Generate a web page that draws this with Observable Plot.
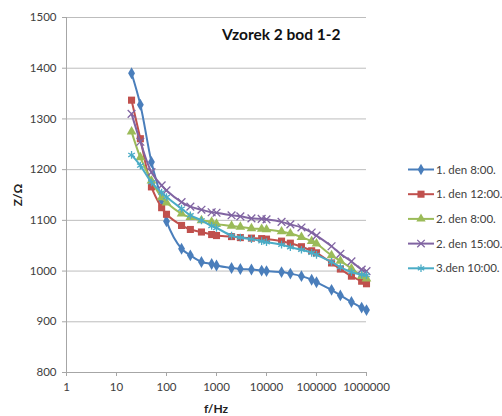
<!DOCTYPE html>
<html>
<head>
<meta charset="utf-8">
<script src="https://cdn.jsdelivr.net/npm/d3@7"></script>
<script src="https://cdn.jsdelivr.net/npm/@observablehq/plot@0.6"></script>
<style>
  html, body { margin: 0; padding: 0; background: #fff; }
  #wrap { position: relative; width: 502px; height: 416px; overflow: hidden; font-family: Lato, "Open Sans", sans-serif; }
  #title { position: absolute; left: 222px; top: 25px; font-size: 15.5px; font-weight: bold; color: #111; white-space: nowrap; }
  #ylab { position: absolute; left: 18px; top: 195px; transform: translate(-50%, -50%) rotate(-90deg); font-size: 12px; font-weight: bold; color: #222; white-space: nowrap; line-height: 12px; }
  #xlab { position: absolute; left: 216px; top: 403px; transform: translateX(-50%); font-size: 12px; line-height: 12px; font-weight: bold; color: #222; white-space: nowrap; }
  #legend { position: absolute; left: 0; top: 0; }
</style>
</head>
<body>
<div id="wrap">
  <div id="chart"></div>
  <div id="title">Vzorek 2 bod 1-2</div>
  <div id="ylab">Z/Ω</div>
  <div id="xlab">f/Hz</div>
  <svg id="legend" width="502" height="416"></svg>
</div>
<script>
const freqs = [20, 30, 50, 80, 100, 200, 300, 500, 800, 1000, 2000, 3000, 5000, 8000, 10000, 20000, 30000, 50000, 80000, 100000, 200000, 300000, 500000, 800000, 1000000];

const seriesNames = ["1. den 8:00.", "1. den 12:00.", "2. den 8:00.", "2. den 15:00.", "3.den 10:00."];
const seriesColors = ["#4a7ebb", "#c0504d", "#9bbb59", "#8064a2", "#4bacc6"];
const seriesSymbols = ["diamond", "square", "triangle", "times", "asterisk"];

const den1_800 = [1390, 1328, 1215, 1140, 1098, 1044, 1031, 1018, 1014, 1011, 1006, 1004, 1003, 1001, 1000, 998, 995, 990, 983, 978, 963, 952, 939, 928, 923];
const den1_1200 = [1337, 1261, 1166, 1125, 1112, 1090, 1082, 1077, 1072, 1070, 1068, 1066, 1065, 1064, 1063, 1059, 1055, 1048, 1040, 1036, 1016, 1004, 990, 980, 975];
const den2_800 = [1275, 1224, 1178, 1145, 1135, 1113, 1106, 1100, 1097, 1093, 1089, 1087, 1084, 1083, 1082, 1078, 1074, 1067, 1059, 1054, 1031, 1020, 1005, 990, 985];
const den2_1500 = [1310, 1255, 1195, 1169, 1159, 1136, 1127, 1121, 1116, 1115, 1110, 1108, 1104, 1103, 1102, 1097, 1092, 1086, 1076, 1070, 1049, 1034, 1019, 1003, 1000];
const den3_1000 = [1229, 1208, 1175, 1155, 1146, 1123, 1110, 1100, 1089, 1085, 1070, 1066, 1063, 1059, 1057, 1052, 1047, 1042, 1036, 1032, 1018, 1008, 998, 993, 992];

const xTicks = [1, 10, 100, 1000, 10000, 100000, 1000000];
const yTicks = [800, 900, 1000, 1100, 1200, 1300, 1400, 1500];

const allSeries = [den1_800, den1_1200, den2_800, den2_1500, den3_1000];
const rows = [];
allSeries.forEach((vals, si) => {
  vals.forEach((v, i) => rows.push({f: freqs[i], z: v, s: seriesNames[si]}));
});

const marks = [
  Plot.ruleY(yTicks.filter(d => d > 800), {stroke: "#bdbdbd", strokeWidth: 1}),
  Plot.ruleY([800], {stroke: "#a6a6a6"}),
  Plot.ruleX([1], {stroke: "#a6a6a6"}),
  Plot.axisX({ticks: xTicks, tickFormat: d3.format("d"), tickSize: 4, tickPadding: 6, stroke: "#a6a6a6", fill: "#404040", label: null, fontSize: 11.5}),
  Plot.axisY({ticks: yTicks, tickFormat: d3.format("d"), tickSize: 4, tickPadding: 6, stroke: "#a6a6a6", fill: "#404040", label: null, fontSize: 11.5})
];
seriesNames.forEach((name, si) => {
  const data = rows.filter(d => d.s === name);
  marks.push(Plot.line(data, {x: "f", y: "z", stroke: seriesColors[si], strokeWidth: 2, curve: "catmull-rom"}));
  const filled = si < 3;
  marks.push(Plot.dot(data, {
    x: "f", y: "z", symbol: seriesSymbols[si], r: si === 1 ? 4 : 3.6,
    fill: filled ? seriesColors[si] : "none",
    stroke: filled ? "none" : seriesColors[si],
    strokeWidth: 1.3
  }));
});

const chart = Plot.plot({
  width: 502,
  height: 416,
  marginLeft: 66,
  marginRight: 136,
  marginTop: 17,
  marginBottom: 44,
  style: {fontFamily: "Lato, 'Open Sans', sans-serif", fontSize: "11.5px", background: "white"},
  x: {type: "log", domain: [1, 1000000]},
  y: {domain: [800, 1500]},
  marks
});
document.getElementById("chart").appendChild(chart);

// legend
const lg = d3.select("#legend");
const symMap = {diamond: d3.symbolDiamond, square: d3.symbolSquare, triangle: d3.symbolTriangle, times: d3.symbolTimes, asterisk: d3.symbolAsterisk};
seriesNames.forEach((name, i) => {
  const y = 169.5 + i * 24.7;
  const g = lg.append("g");
  g.append("line").attr("x1", 408).attr("x2", 434).attr("y1", y).attr("y2", y)
    .attr("stroke", seriesColors[i]).attr("stroke-width", 2);
  const filled = i < 3;
  g.append("path").attr("transform", `translate(421,${y})`)
    .attr("d", d3.symbol(symMap[seriesSymbols[i]], i === 1 ? 50 : 38)())
    .attr("fill", filled ? seriesColors[i] : "none")
    .attr("stroke", filled ? "none" : seriesColors[i]).attr("stroke-width", 1.3);
  g.append("text").attr("x", 436).attr("y", y).attr("dy", "0.35em")
    .attr("font-size", 11.5).attr("fill", "#404040")
    .attr("font-family", "Lato, 'Open Sans', sans-serif").text(name);
});
</script>
</body>
</html>
